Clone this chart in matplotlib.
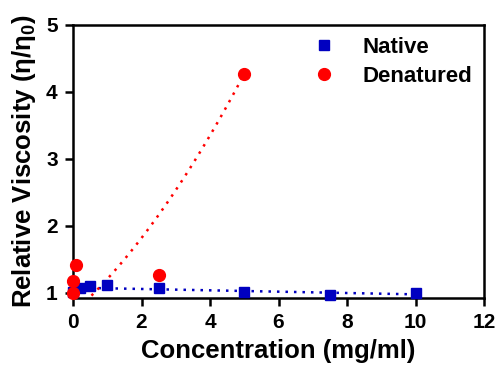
import numpy as np
import matplotlib
matplotlib.use("Agg")
import matplotlib.pyplot as plt

plt.rcParams['font.family'] = ['Liberation Sans', 'DejaVu Sans']
plt.rcParams['mathtext.default'] = 'regular'

# Native protein
native_x = [0, 0.2, 0.5, 1, 2.5, 5, 7.5, 10]
native_y = [1.02, 1.07, 1.10, 1.12, 1.07, 1.02, 0.97, 1.00]

# Denatured protein
denat_x = [0, 0, 0.1, 2.5, 5]
denat_y = [1.00, 1.18, 1.42, 1.27, 4.27]

# fitted curve coefficients (quadratic, highest power first)
denat_fit = [0.0511, 0.459, 0.698]

fig = plt.figure(figsize=(4.98, 3.66), dpi=100)
ax = fig.add_axes([0.1466, 0.1858, 0.8254, 0.7459])

# linear fit for native
p = np.polyfit(native_x, native_y, 1)
xs = np.linspace(0, 10, 100)
ax.plot(xs, np.polyval(p, xs), color='#0000c0', lw=1.8, dashes=(1, 2.4))

xd = np.linspace(0, 5, 200)
ax.plot(xd, np.polyval(denat_fit, xd), color='#ff0000', lw=1.8, dashes=(1, 2.4))

ax.plot(native_x, native_y, 's', color='#0000c0', ms=7.5, clip_on=False,
        label='Native', zorder=3)
ax.plot(denat_x, denat_y, 'o', color='#ff0000', ms=8.5, clip_on=False,
        label='Denatured', zorder=4)

ax.set_xlim(0, 12)
ax.set_ylim(0.925, 5)
ax.set_xticks([0, 2, 4, 6, 8, 10, 12])
ax.set_yticks([1, 2, 3, 4, 5])

for s in ax.spines.values():
    s.set_linewidth(1.8)
ax.tick_params(direction='out', length=6, width=1.8, labelsize=15, pad=5)
for lab in ax.get_xticklabels() + ax.get_yticklabels():
    lab.set_fontweight('bold')

ax.set_xlabel('Concentration (mg/ml)', fontsize=18.5, fontweight='bold', labelpad=5)
ax.set_ylabel(r'Relative Viscosity $(\eta/\eta_0)$', fontsize=18.5,
              fontweight='bold', labelpad=6)

leg = ax.legend(loc='upper right', frameon=False, prop={'weight': 'bold', 'size': 16},
                handletextpad=0.7, markerscale=1.0, borderaxespad=0.15,
                labelspacing=0.35)

fig.savefig('out.png', dpi=100)
